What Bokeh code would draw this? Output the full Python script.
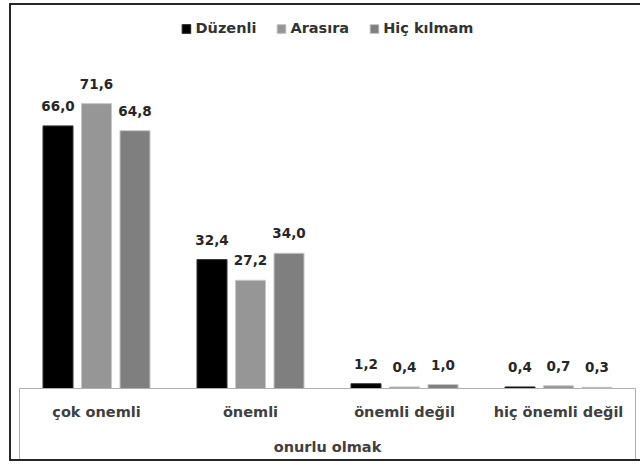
from bokeh.plotting import figure
from bokeh.models import Range1d, FixedTicker, ColumnDataSource, LabelSet, Legend, LegendItem
from bokeh.core.properties import value
from bokeh.embed import file_html
from bokeh.resources import INLINE

categories = ["çok onemli", "önemli", "önemli değil", "hiç önemli değil"]
series = ["Düzenli", "Arasıra", "Hiç kılmam"]
duzenli = [66.0, 32.4, 1.2, 0.4]
arasira = [71.6, 27.2, 0.4, 0.7]
hic_kilmam = [64.8, 34.0, 1.0, 0.3]
axis_title = "onurlu olmak"

values = [duzenli, arasira, hic_kilmam]
colors = ["#000000", "#969696", "#7f7f7f"]
offsets = [-0.25, 0.0, 0.25]
FONT = "DejaVu Sans"

p = figure(width=631, height=458, output_backend="svg", toolbar_location=None,
           x_range=Range1d(0, len(categories)), y_range=Range1d(0, 94),
           min_border_left=8, min_border_right=7, min_border_top=9, min_border_bottom=75)
p.margin = (3, 0, 0, 9)
p.styles = {"border-left": "2px solid #262626", "border-top": "2px solid #262626",
            "border-bottom": "2px solid #262626"}
p.outline_line_color = None
p.xgrid.visible = False
p.ygrid.visible = False
p.yaxis.visible = False

items = []
for name, vals, col, off in zip(series, values, colors, offsets):
    xs = [i + 0.5 + off for i in range(len(categories))]
    src = ColumnDataSource(dict(x=xs, top=vals,
                                label=[f"{v:.1f}".replace(".", ",") for v in vals]))
    r = p.vbar(x="x", top="top", bottom=0, width=0.195, source=src,
               fill_color=col, line_color="#c8c8c8" if col != "#000000" else "#333333",
               line_width=1)
    items.append(LegendItem(label=name, renderers=[r]))
    p.add_layout(LabelSet(x="x", y="top", text="label", source=src, y_offset=15,
                          text_align="center", text_baseline="alphabetic",
                          text_font=value(FONT), text_font_style="bold",
                          text_font_size="13.5px", text_color="#262626"))

legend = Legend(items=items, orientation="horizontal", location="top_center",
                glyph_width=11, glyph_height=11, label_standoff=4, spacing=19,
                padding=0, margin=6, border_line_color=None, background_fill_alpha=0,
                label_text_font=FONT, label_text_font_style="bold",
                label_text_font_size="14.5px", label_text_color="#333333")
p.add_layout(legend)

ax = p.xaxis[0]
ax.ticker = FixedTicker(ticks=[i + 0.5 for i in range(len(categories))],
                        minor_ticks=[0, len(categories)])
ax.major_label_overrides = {i + 0.5: c for i, c in enumerate(categories)}
ax.major_tick_in = 0
ax.major_tick_out = 0
ax.minor_tick_in = 0
ax.minor_tick_out = 75
ax.minor_tick_line_color = "#b0b0b0"
ax.axis_line_color = "#b0b0b0"
ax.major_label_standoff = -60
ax.major_label_text_font = FONT
ax.major_label_text_font_style = "bold"
ax.major_label_text_font_size = "14.5px"
ax.major_label_text_color = "#404040"
ax.axis_label = axis_title
ax.axis_label_standoff = 16
ax.axis_label_text_font = FONT
ax.axis_label_text_font_style = "bold"
ax.axis_label_text_font_size = "14.5px"
ax.axis_label_text_color = "#404040"

open("out.html", "w").write(file_html(p, INLINE))
